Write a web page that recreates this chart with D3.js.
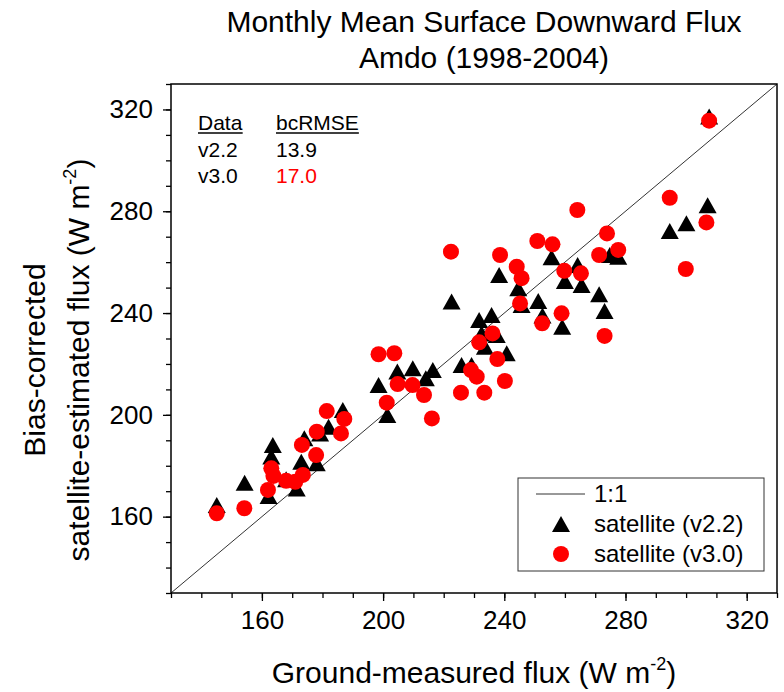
<!DOCTYPE html>
<html><head><meta charset="utf-8">
<script src="https://cdn.jsdelivr.net/npm/d3@7"></script>
<style>
body{margin:0;background:#fff}
svg{display:block}
text{font-family:"Liberation Sans",Arial,Helvetica,sans-serif;fill:#000}
</style>
</head><body>
<svg id="chart" width="784" height="692"></svg>
<script>
// ---- data ----
const titleLines = ["Monthly Mean Surface Downward Flux", "Amdo (1998-2004)"];
const xTitle = "Ground-measured flux (W m";
const yTitle1 = "Bias-corrected";
const yTitle2 = "satellite-estimated flux (W m";
const majorTicks = [160, 200, 240, 280, 320];
const minorTicks = d3.range(130, 331, 10);
const axisDomain = [130, 330];
const oneToOne = [130, 330];

// satellite (v2.2): ground-measured (x) and satellite (y)
const v22X = [145.1,154.3,163.6,163.1,162.2,168.0,171.5,174.0,173.0,178.1,182.0,186.7,179.2,
  222.6,198.5,201.4,204.7,209.8,214.1,216.4,225.9,229.2,231.7,235.8,232.5,233.6,237.5,240.8,
  238.3,244.6,251.2,252.6,245.7,255.6,264.2,260.0,265.5,274.8,277.6,271.3,273.1,259.1,
  307.6,307.1,300.1,294.6];
const v22Y = [164.6,173.3,188.2,183.6,168.1,174.7,171.1,190.8,181.6,181.0,195.3,201.9,192.7,
  244.5,211.7,199.9,217.0,218.3,214.4,217.6,219.6,219.6,237.3,239.2,232.0,226.8,231.4,224.2,
  255.0,249.7,244.7,239.0,243.2,261.9,258.9,252.6,251.0,262.8,262.1,247.4,240.8,234.6,
  317.2,282.4,275.3,272.2];

// satellite (v3.0)
const v30X = [145.1,154.2,162.0,163.1,163.8,168.0,171.0,173.5,173.2,177.9,178.1,181.4,187.2,186.1,
  198.5,203.7,204.8,209.7,213.5,201.2,216.1,225.7,229.0,230.9,233.4,231.7,236.1,237.7,240.2,
  245.2,250.9,255.9,273.9,271.3,277.6,238.6,244.1,245.7,259.8,265.3,258.9,252.5,273.1,
  307.6,294.6,306.7,299.9,264.1,222.4];
const v30Y = [161.3,163.3,170.5,179.0,176.0,174.1,173.7,176.4,188.2,184.2,193.4,201.5,198.4,192.7,
  223.8,224.2,212.1,211.7,207.8,204.8,198.6,208.7,217.6,215.0,208.7,228.5,232.0,221.9,213.3,
  243.8,268.3,267.0,271.3,262.8,264.8,262.8,258.2,253.7,256.6,255.6,239.9,236.0,231.0,
  315.6,285.3,275.6,257.3,280.5,264.1];

const statsHeader = ["Data", "bcRMSE"];
const statsRows = [["v2.2", "13.9"], ["v3.0", "17.0"]];
const legendLabels = ["1:1", "satellite (v2.2)", "satellite (v3.0)"];

// ---- layout ----
const W = 784, H = 692;
const m = {left: 171, right: 7, top: 84, bottom: 99};
const pw = W - m.left - m.right, ph = H - m.top - m.bottom;
const RED = "#ff0000";

const svg = d3.select("#chart");
const x = d3.scaleLinear().domain(axisDomain).range([m.left, m.left + pw]);
const y = d3.scaleLinear().domain(axisDomain).range([m.top + ph, m.top]);

const triW = 18, triH = 16;
const triPath = `M0,${-triH/2}L${triW/2},${triH/2}L${-triW/2},${triH/2}Z`;

// 1:1 line
svg.append("line")
  .attr("x1", x(oneToOne[0])).attr("y1", y(oneToOne[0]))
  .attr("x2", x(oneToOne[1])).attr("y2", y(oneToOne[1]))
  .attr("stroke", "#333").attr("stroke-width", 1);

// triangles
svg.append("g").selectAll("path").data(v22X.map((d, i) => [d, v22Y[i]]))
  .join("path")
  .attr("d", triPath)
  .attr("transform", d => `translate(${x(d[0])},${y(d[1])})`)
  .attr("fill", "#000");

// circles
svg.append("g").selectAll("circle").data(v30X.map((d, i) => [d, v30Y[i]]))
  .join("circle")
  .attr("cx", d => x(d[0])).attr("cy", d => y(d[1]))
  .attr("r", 8).attr("fill", RED);

// frame
svg.append("rect").attr("x", m.left).attr("y", m.top).attr("width", pw).attr("height", ph)
  .attr("fill", "none").attr("stroke", "#000").attr("stroke-width", 1.5);

// axes
function styleAxis(g) {
  g.select(".domain").remove();
  g.selectAll(".tick line").attr("stroke", "#000").attr("stroke-width", 1.3);
  g.selectAll(".tick text").style("font-size", "26px").style("font-family", '"Liberation Sans",Arial,sans-serif');
}
svg.append("g").attr("transform", `translate(0,${m.top + ph})`)
  .call(d3.axisBottom(x).tickValues(minorTicks).tickSize(5).tickFormat(""))
  .call(styleAxis);
svg.append("g").attr("transform", `translate(0,${m.top + ph})`)
  .call(d3.axisBottom(x).tickValues(majorTicks).tickSize(8).tickPadding(10).tickFormat(d3.format("d")))
  .call(styleAxis);
svg.append("g").attr("transform", `translate(${m.left},0)`)
  .call(d3.axisLeft(y).tickValues(minorTicks).tickSize(5).tickFormat(""))
  .call(styleAxis);
svg.append("g").attr("transform", `translate(${m.left},0)`)
  .call(d3.axisLeft(y).tickValues(majorTicks).tickSize(8).tickPadding(10).tickFormat(d3.format("d")))
  .call(styleAxis);

// title
svg.append("text").attr("x", 484).attr("y", 32).attr("text-anchor", "middle")
  .style("font-size", "30px").text(titleLines[0]);
svg.append("text").attr("x", 484).attr("y", 68).attr("text-anchor", "middle")
  .style("font-size", "30px").text(titleLines[1]);

// x title
const xt = svg.append("text").attr("x", m.left + pw / 2).attr("y", 683).attr("text-anchor", "middle")
  .style("font-size", "30px");
xt.append("tspan").text(xTitle);
xt.append("tspan").attr("dy", -13).style("font-size", "18px").text("-2");
xt.append("tspan").attr("dy", 13).text(")");

// y title
const yt = svg.append("g").attr("transform", "translate(0,360) rotate(-90)");
yt.append("text").attr("x", 0).attr("y", 45).attr("text-anchor", "middle")
  .style("font-size", "30px").text(yTitle1);
const yt2 = yt.append("text").attr("x", 0).attr("y", 89).attr("text-anchor", "middle")
  .style("font-size", "30px");
yt2.append("tspan").text(yTitle2);
yt2.append("tspan").attr("dy", -13).style("font-size", "18px").text("-2");
yt2.append("tspan").attr("dy", 13).text(")");

// stats inset
const sx = [198, 276];
const hdr = svg.append("g");
statsHeader.forEach((t, i) => {
  const tx = hdr.append("text").attr("x", sx[i]).attr("y", 130).style("font-size", "21px").text(t);
  const bb = tx.node().getBBox();
  hdr.append("line").attr("x1", sx[i]).attr("x2", sx[i] + bb.width)
    .attr("y1", 133).attr("y2", 133).attr("stroke", "#000").attr("stroke-width", 1.3);
});
statsRows.forEach((r, j) => {
  svg.append("text").attr("x", sx[0]).attr("y", 157 + j * 26).style("font-size", "21px").text(r[0]);
  svg.append("text").attr("x", sx[1]).attr("y", 157 + j * 26).style("font-size", "21px")
    .style("fill", j === 1 ? RED : "#000").text(r[1]);
});

// legend
const lg = svg.append("g");
lg.append("rect").attr("x", 518).attr("y", 478).attr("width", 246).attr("height", 93)
  .attr("fill", "#fff").attr("stroke", "#333").attr("stroke-width", 1);
const rowsY = [494, 524, 554];
lg.append("line").attr("x1", 536).attr("x2", 585).attr("y1", rowsY[0]).attr("y2", rowsY[0])
  .attr("stroke", "#333").attr("stroke-width", 1);
lg.append("path").attr("d", triPath).attr("transform", `translate(561,${rowsY[1]})`).attr("fill", "#000");
lg.append("circle").attr("cx", 561).attr("cy", rowsY[2]).attr("r", 8).attr("fill", RED);
legendLabels.forEach((t, i) => {
  lg.append("text").attr("x", 594).attr("y", rowsY[i] + 8).style("font-size", "24px").text(t);
});
</script>
</body></html>
